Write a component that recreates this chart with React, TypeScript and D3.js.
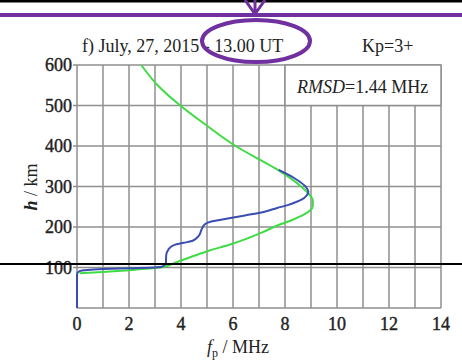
import * as d3 from "d3";

// plasma frequency (MHz) vs height (km)
const measuredFreq = [0, 0, 0.1, 0.4, 1.0, 2.0, 3.0, 3.3, 3.42, 3.43, 3.52, 3.75, 4.1, 4.45, 4.68, 4.8, 4.92, 5.2, 5.9, 6.5, 7.1, 7.7, 8.1, 8.4, 8.65, 8.82, 8.9, 8.8, 8.35, 7.76];
const measuredHeight = [0, 84, 91, 94, 96, 98, 100, 103, 112, 130, 145, 156, 161, 166, 178, 195, 207, 214, 222, 229, 236, 247, 254, 261, 268, 277, 287, 299, 321, 341];

const modelFreq = [0.1, 1.0, 2.3, 3.3, 3.7, 4.25, 5.1, 5.8, 6.56, 7.1, 7.75, 8.3, 8.65, 8.95, 9.07, 9.07, 8.88, 8.62, 8.22, 7.72, 7.2, 6.1, 5.0, 3.97, 3.1, 2.47];
const modelHeight = [86, 89, 95, 101, 110, 123, 142, 155, 172, 186, 205, 218, 228, 240, 252, 265, 284, 300, 320, 341, 360, 400, 450, 500, 550, 600];

const xTicks = [0, 2, 4, 6, 8, 10, 12, 14];
const yTicks = [100, 200, 300, 400, 500, 600];

const serif = "Liberation Serif, Times New Roman, serif";
const purple = "#7030a0";
const ink = "#222";

export default function App() {
  const x = d3.scaleLinear().domain([0, 14]).range([77, 441]);
  const y = d3.scaleLinear().domain([0, 600]).range([308, 65]);

  const line = d3
    .line<[number, number]>()
    .x((d) => x(d[0]))
    .y((d) => y(d[1]))
    .curve(d3.curveMonotoneY);

  const measured = measuredFreq.map((f, i) => [f, measuredHeight[i]] as [number, number]);
  const model = modelFreq.map((f, i) => [f, modelHeight[i]] as [number, number]);

  const gridX = d3.range(0, 15);
  const gridY = d3.range(0, 700, 100);

  return (
    <svg
      width={462}
      height={361}
      style={{ position: "absolute", left: 0, top: 0, background: "#fff", fontFamily: serif }}
    >
      <rect width={462} height={361} fill="#fff" />

      {/* grid */}
      {gridX.map((v) => (
        <line key={"gx" + v} x1={x(v)} x2={x(v)} y1={y(0)} y2={y(600)} stroke="#8f8f8f" strokeWidth={1.5} />
      ))}
      {gridY.map((v) => (
        <line key={"gy" + v} x1={x(0)} x2={x(14)} y1={y(v)} y2={y(v)} stroke="#8f8f8f" strokeWidth={1.5} />
      ))}
      {yTicks.map((v) => (
        <line key={"yt" + v} x1={x(0) - 4} x2={x(0)} y1={y(v)} y2={y(v)} stroke="#8f8f8f" strokeWidth={1.5} />
      ))}

      {/* RMSD box */}
      <rect
        x={x(8)}
        y={y(600)}
        width={x(14) - x(8)}
        height={y(500) - y(600)}
        fill="#fff"
        stroke="#8f8f8f"
        strokeWidth={1.5}
      />
      <text x={x(8) + 12} y={93} fontSize={18} fill={ink}>
        <tspan fontStyle="italic">RMSD</tspan>=1.44 MHz
      </text>

      {/* curves */}
      <path d={line(model) || ""} fill="none" stroke="#3fdc45" strokeWidth={2} />
      <path d={line(measured) || ""} fill="none" stroke="#3b4db0" strokeWidth={2} />

      {/* tick labels */}
      {yTicks.map((v) => (
        <text key={"yl" + v} x={72} y={y(v)} dy="0.35em" textAnchor="end" fontSize={18} fill={ink} stroke={ink} strokeWidth={0.4}>
          {v}
        </text>
      ))}
      {xTicks.map((v) => (
        <text key={"xl" + v} x={x(v)} y={330} textAnchor="middle" fontSize={18} fill={ink} stroke={ink} strokeWidth={0.4}>
          {v}
        </text>
      ))}

      {/* axis titles */}
      <text x={207} y={353} fontSize={18} fill={ink}>
        <tspan fontStyle="italic">f</tspan>
        <tspan fontSize={12} dy={4}>p</tspan>
        <tspan dy={-4}> / MHz</tspan>
      </text>
      <text transform="translate(37,187) rotate(-90)" textAnchor="middle" fontSize={18} fill={ink}>
        <tspan fontStyle="italic" fontWeight="bold">h</tspan> / km
      </text>

      {/* header */}
      <text x={82} y={52} fontSize={18} fill={ink}>
        f) July, 27, 2015 - 13.00 UT
      </text>
      <text x={362} y={52} fontSize={18} fill={ink}>
        Kp=3+
      </text>

      {/* annotation overlays */}
      <rect x={0} y={0} width={462} height={2.5} fill="#000" />
      <rect x={0} y={13} width={462} height={4} fill={purple} />
      <path d="M245,0 L255,14 L265,0 M255,0 L255,14" fill="none" stroke={purple} strokeWidth={3} />
      <ellipse cx={256} cy={41} rx={54} ry={21} fill="none" stroke={purple} strokeWidth={4} />
      <rect x={0} y={263} width={462} height={2} fill="#000" />
    </svg>
  );
}
